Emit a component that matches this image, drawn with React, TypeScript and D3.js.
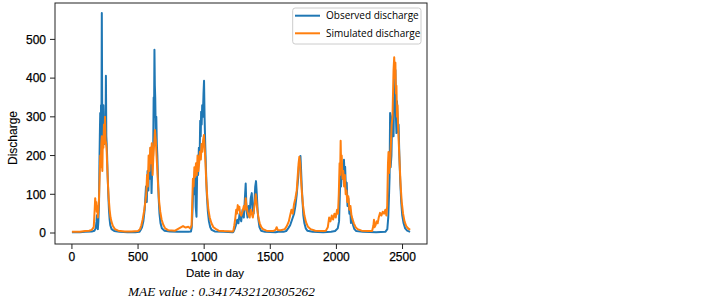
import React from "react";
import * as d3 from "d3";

const xTicks = [0, 500, 1000, 1500, 2000, 2500];
const yTicks = [0, 100, 200, 300, 400, 500];

// [day, discharge]
const observed: [number, number][] = [
  [0,2],[60,2],[100,3],[150,4],[170,6],[180,12],[186,30],[189,46],[192,20],[196,10],[200,30],[205,80],[208,180],[211,250],[214,310],[217,200],[220,330],[223,250],[226,568],[229,300],[232,320],[235,250],[238,330],[241,280],[244,230],[247,300],[250,260],[254,240],[257,406],[260,250],[263,230],[266,200],[270,150],[275,100],[280,60],[285,35],[290,20],[300,10],[320,5],[360,3],[420,2],[480,2],[510,3],[520,8],[530,15],[540,30],[550,60],[560,120],[566,80],[572,160],[578,110],[584,190],[590,140],[596,220],[602,103],[608,180],[614,200],[618,350],[621,300],[624,473],[627,380],[630,349],[634,260],[638,300],[642,230],[646,200],[650,150],[656,90],[662,50],[670,25],[680,12],[700,6],[740,4],[800,3],[850,3],[880,3],[900,4],[906,15],[912,60],[918,130],[924,100],[930,160],[936,68],[942,42],[948,180],[954,150],[960,220],[966,200],[970,290],[974,250],[977,313],[981,280],[985,330],[990,300],[995,360],[999,393],[1003,300],[1008,230],[1014,160],[1020,100],[1028,55],[1036,30],[1046,15],[1057,8],[1080,4],[1150,3],[1215,2],
  [1221,3],[1230,10],[1240,20],[1250,34],[1259,25],[1268,50],[1280,30],[1290,60],[1300,40],[1308,90],[1314,128],[1320,60],[1328,40],[1336,70],[1344,50],[1352,90],[1360,103],[1366,60],[1374,50],[1380,80],[1386,120],[1392,134],[1398,100],[1404,60],[1410,35],[1418,15],[1430,6],[1460,3],[1540,2],[1560,3],[1600,3],[1620,5],[1635,12],[1650,20],[1665,35],[1680,50],[1690,70],[1700,100],[1710,140],[1716,170],[1720,185],[1728,199],[1732,170],[1738,120],[1744,80],[1750,45],[1758,25],[1768,12],[1780,6],[1820,3],[1900,2],[1960,3],[1990,5],[2010,12],[2020,30],[2026,100],[2030,150],[2035,120],[2040,160],[2046,140],[2052,175],[2057,189],[2062,150],[2066,171],[2072,110],[2078,130],[2084,70],[2090,90],[2098,50],[2104,60],[2110,26],[2118,40],[2126,20],[2136,10],[2150,5],[2200,3],[2300,2],[2370,3],[2385,10],[2392,40],[2398,100],[2402,145],[2406,310],[2410,170],[2416,200],[2422,300],[2428,310],[2432,250],[2436,350],[2440,320],[2446,421],[2450,300],[2454,258],[2458,340],[2462,300],[2466,260],[2470,280],[2476,200],[2482,140],[2490,80],[2498,45],[2508,25],[2520,12],[2535,6],[2557,3]
];

const simulated: [number, number][] = [
  [0,3],[60,3],[100,5],[130,6],[150,8],[165,15],[172,60],[176,90],[180,70],[184,80],[188,55],[192,70],[196,40],[200,60],[205,90],[210,150],[214,200],[218,170],[222,230],[226,250],[230,160],[234,250],[238,220],[242,280],[246,232],[250,300],[254,240],[258,232],[262,220],[266,180],[272,130],[278,90],[285,60],[292,40],[300,28],[310,18],[325,10],[350,6],[400,4],[450,4],[500,5],[515,10],[525,20],[535,35],[545,55],[555,80],[562,100],[568,150],[574,120],[580,200],[586,160],[592,220],[598,180],[604,232],[610,150],[616,200],[622,230],[628,266],[634,240],[640,200],[646,160],[652,120],[660,80],[668,55],[678,35],[690,22],[705,12],[730,7],[780,6],[800,10],[820,14],[840,18],[860,14],[880,16],[895,12],[905,20],[910,80],[915,140],[920,120],[926,170],[932,145],[938,180],[944,150],[950,200],[956,160],[962,180],[968,210],[975,190],[980,230],[986,210],[992,240],[998,253],[1004,220],[1010,180],[1016,130],[1024,90],[1032,60],[1042,40],[1055,25],[1070,15],[1090,10],[1110,6],[1150,5],[1215,4],
  [1221,6],[1228,20],[1236,40],[1242,60],[1248,50],[1254,72],[1260,60],[1266,68],[1272,50],[1280,45],[1290,55],[1300,70],[1308,60],[1314,90],[1320,70],[1328,55],[1336,45],[1344,40],[1352,60],[1360,50],[1368,40],[1376,60],[1384,80],[1390,100],[1396,80],[1402,60],[1410,40],[1420,25],[1432,15],[1445,10],[1470,6],[1520,5],[1540,8],[1548,15],[1556,8],[1580,7],[1610,10],[1625,18],[1640,30],[1650,45],[1660,60],[1670,50],[1680,75],[1690,90],[1700,110],[1708,150],[1714,180],[1720,197],[1726,180],[1732,140],[1740,100],[1748,70],[1758,45],[1770,28],[1785,16],[1805,10],[1840,6],[1900,5],
  [1920,6],[1935,15],[1945,40],[1955,30],[1965,45],[1975,35],[1985,50],[1995,40],[2005,60],[2012,50],[2018,100],[2024,180],[2028,150],[2032,238],[2036,170],[2040,200],[2046,140],[2052,160],[2058,120],[2064,150],[2070,100],[2076,110],[2082,80],[2090,95],[2098,60],[2106,70],[2114,45],[2122,35],[2132,25],[2145,15],[2160,10],[2190,6],[2240,5],[2270,5],[2280,20],[2284,34],[2288,15],[2296,20],[2304,30],[2312,25],[2320,40],[2330,52],[2340,45],[2350,55],[2360,50],[2370,60],[2378,45],[2384,70],[2390,180],[2394,209],[2398,155],[2402,190],[2406,170],[2412,230],[2418,280],[2424,300],[2428,360],[2432,420],[2437,454],[2442,400],[2446,440],[2450,360],[2454,380],[2458,300],[2462,330],[2466,280],[2472,230],[2478,180],[2486,120],[2494,80],[2504,50],[2515,30],[2528,18],[2542,12],[2557,8]
];

const seriesNames = ["Observed discharge", "Simulated discharge"];
const colors = ["#1f77b4", "#ff7f0e"];

export default function App() {
  const left = 55, right = 427, top = 3, bottom = 244;
  const x = d3.scaleLinear().domain([-128, 2685]).range([left, right]);
  const y = d3.scaleLinear().domain([-28.4, 594]).range([bottom, top]);
  const line = d3.line<[number, number]>().x(d => x(d[0])).y(d => y(d[1]));
  const sans = "'Liberation Sans', Arial, sans-serif";
  const heavy = { stroke: "#000", strokeWidth: 0.25 };
  const light = { stroke: "#000", strokeWidth: 0.12 };
  return (
    <svg width={723} height={298} style={{ position: "absolute", left: 0, top: 0, background: "#fff" }}>
      <defs>
        <clipPath id="plot"><rect x={left} y={top} width={right - left} height={bottom - top} /></clipPath>
      </defs>
      <g clipPath="url(#plot)" fill="none" strokeWidth={2} strokeLinejoin="round">
        <path d={line(observed) || ""} stroke={colors[0]} />
        <path d={line(simulated) || ""} stroke={colors[1]} />
      </g>
      <rect x={left} y={top} width={right - left} height={bottom - top} fill="none" stroke="#222" strokeWidth={1} />
      {xTicks.map(t => (
        <g key={"x" + t}>
          <line x1={x(t)} x2={x(t)} y1={bottom} y2={bottom + 5} stroke="#222" />
          <text x={x(t)} y={261} textAnchor="middle" fontFamily={sans} fontSize={12} fill="#000" {...heavy}>{t}</text>
        </g>
      ))}
      {yTicks.map(t => (
        <g key={"y" + t}>
          <line x1={left - 5} x2={left} y1={y(t)} y2={y(t)} stroke="#222" />
          <text x={46} y={y(t) + 4.3} textAnchor="end" fontFamily={sans} fontSize={12} fill="#000" {...heavy}>{t}</text>
        </g>
      ))}
      <text x={215} y={277} textAnchor="middle" fontFamily={sans} fontSize={11.5} fill="#000" {...light}>Date in day</text>
      <text transform="translate(17,138) rotate(-90)" textAnchor="middle" fontFamily={sans} fontSize={12} fill="#000" {...light}>Discharge</text>
      <g>
        <rect x={292.7} y={8} width={128.3} height={36} rx={2.5} fill="#fff" fillOpacity={0.8} stroke="#cccccc" />
        {seriesNames.map((n, i) => (
          <g key={n}>
            <line x1={295} x2={320} y1={15.7 + i * 17.6} y2={15.7 + i * 17.6} stroke={colors[i]} strokeWidth={2} />
            <text x={326} y={15.7 + i * 17.6 + 3.5} fontFamily="'Open Sans', sans-serif" fontSize={10} fill="#000">{n}</text>
          </g>
        ))}
      </g>
      <text x={128} y={296} fontFamily="'Liberation Serif', serif" fontStyle="italic" fontSize={13.3} fill="#000">MAE value : 0.3417432120305262</text>
    </svg>
  );
}
